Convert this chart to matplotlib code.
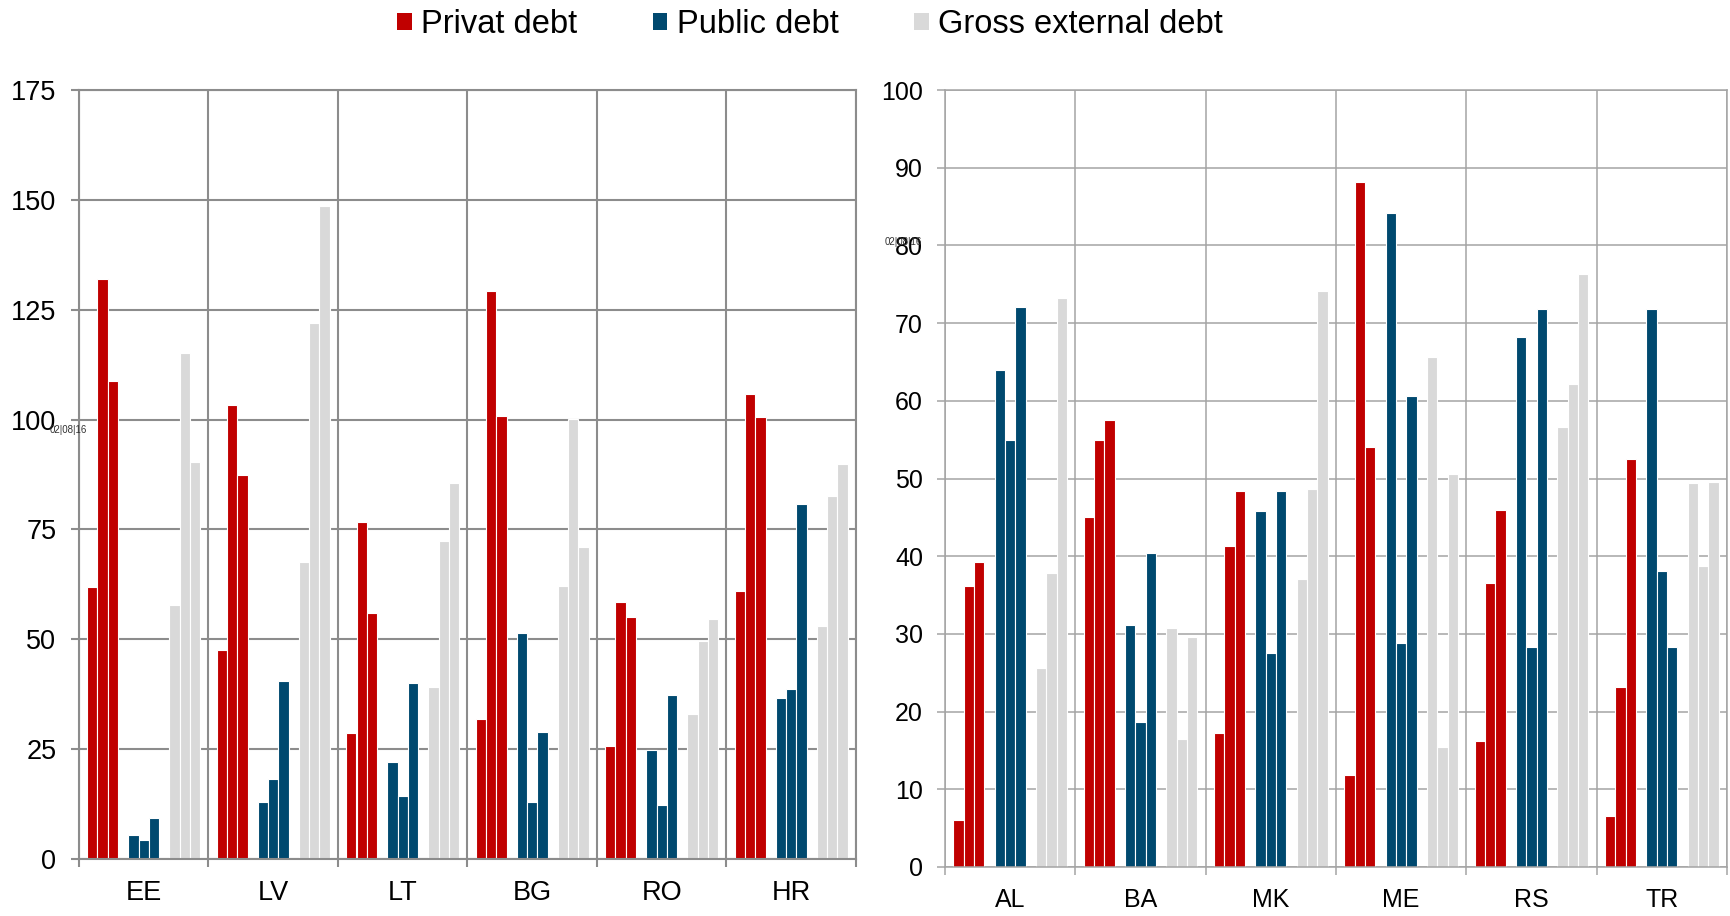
import numpy as np
import matplotlib
matplotlib.use('Agg')
import matplotlib.pyplot as plt
from matplotlib.patches import Patch

plt.rcParams['font.family'] = ['Liberation Sans', 'DejaVu Sans']

series_names = ['Privat debt', 'Public debt', 'Gross external debt']
series_colors = ['#c00000', '#00496f', '#d9d9d9']

# EU members, three observations per country and series
eu_countries = ['EE', 'LV', 'LT', 'BG', 'RO', 'HR']
eu_private = [[61.8, 132.1, 108.7], [47.6, 103.4, 87.5], [28.7, 76.6, 55.9],
              [31.8, 129.3, 100.8], [25.8, 58.4, 55.1], [60.9, 105.9, 100.6]]
eu_public = [[5.5, 4.4, 9.3], [12.9, 18.1, 40.4], [22.0, 14.4, 40.0],
             [51.4, 12.9, 29.0], [24.7, 12.3, 37.4], [36.6, 38.8, 80.7]]
eu_external = [[57.8, 115.1, 90.4], [67.6, 122.0, 148.6], [39.1, 72.3, 85.6],
               [62.1, 100.2, 71.1], [33.1, 49.5, 54.7], [53.0, 82.6, 89.9]]
eu_yticks = [0, 25, 50, 75, 100, 125, 150, 175]

# candidate countries
cc_countries = ['AL', 'BA', 'MK', 'ME', 'RS', 'TR']
cc_private = [[6.1, 36.2, 39.3], [45.0, 55.0, 57.5], [17.2, 41.3, 48.4],
              [11.8, 88.2, 54.0], [16.2, 36.6, 46.0], [6.6, 23.2, 52.5]]
cc_public = [[63.9, 55.0, 72.1], [31.1, 18.7, 40.4], [45.8, 27.6, 48.4],
             [84.2, 28.8, 60.6], [68.2, 28.3, 71.8], [71.8, 38.1, 28.3]]
cc_external = [[25.6, 37.8, 73.2], [30.7, 16.5, 29.6], [37.1, 48.7, 74.1],
               [65.6, 15.4, 50.6], [56.6, 62.1, 76.3], [49.4, 38.7, 49.6]]
cc_yticks = [0, 10, 20, 30, 40, 50, 60, 70, 80, 90, 100]

W, H = 1731, 916
fig = plt.figure(figsize=(W / 100, H / 100), dpi=100)


def px_axes(x0, x1, y0, y1):
    return fig.add_axes([x0 / W, 1 - y1 / H, (x1 - x0) / W, (y1 - y0) / H])


def draw_panel(ax, countries, groups, yticks, grid_color, grid_lw, fs, ypad):
    n = len(countries)
    centers = np.arange(n) + 0.5
    w = 1 / 12.6
    for s, data in enumerate(groups):
        vals = np.array(data)
        for j in range(3):
            x = centers + (s * 4 + j - 5) * w
            ax.bar(x, vals[:, j], width=w, color=series_colors[s],
                   edgecolor='white', linewidth=0.8, zorder=2)

    ax.set_xlim(0, n)
    ax.set_ylim(yticks[0], yticks[-1])
    ax.set_yticks(yticks)
    ax.set_xticks(np.arange(n + 1))
    ax.set_xticklabels([])
    ax.set_xticks(centers, minor=True)
    ax.set_xticklabels(countries, minor=True, fontsize=fs)
    ax.tick_params(axis='x', which='minor', length=0, pad=15)
    ax.tick_params(axis='x', which='major', length=5.5, width=grid_lw,
                   color=grid_color)
    ax.tick_params(axis='y', length=5.8, width=grid_lw, color=grid_color,
                   labelsize=fs, pad=ypad)
    ax.grid(True, which='major', color=grid_color, linewidth=grid_lw, zorder=1)
    ax.set_axisbelow(True)
    for sp in ax.spines.values():
        sp.set_color(grid_color)
        sp.set_linewidth(grid_lw)


ax1 = px_axes(79, 856, 90, 859)
draw_panel(ax1, eu_countries, [eu_private, eu_public, eu_external],
           eu_yticks, '#8c8c8c', 1.5, 19.5, 10.5)

ax2 = px_axes(945, 1727, 90, 867)
draw_panel(ax2, cc_countries, [cc_private, cc_public, cc_external],
           cc_yticks, '#a4a4a4', 1.1, 18, 10)

# date stamps
fig.text(50 / W, 1 - 430 / H, '02|08|16', fontsize=7, va='center', color='#333333')
fig.text(885 / W, 1 - 242 / H, '02|08|16', fontsize=7, va='center', color='#333333')

handles = [Patch(facecolor=c, edgecolor='none') for c in series_colors]
fig.legend(handles, series_names, loc='upper center', bbox_to_anchor=(810 / W, 1.022),
           ncol=3, frameon=False, fontsize=23.5, handlelength=0.45, handleheight=0.45,
           handletextpad=0.3, columnspacing=2.3)

fig.savefig('out.png', dpi=100)
